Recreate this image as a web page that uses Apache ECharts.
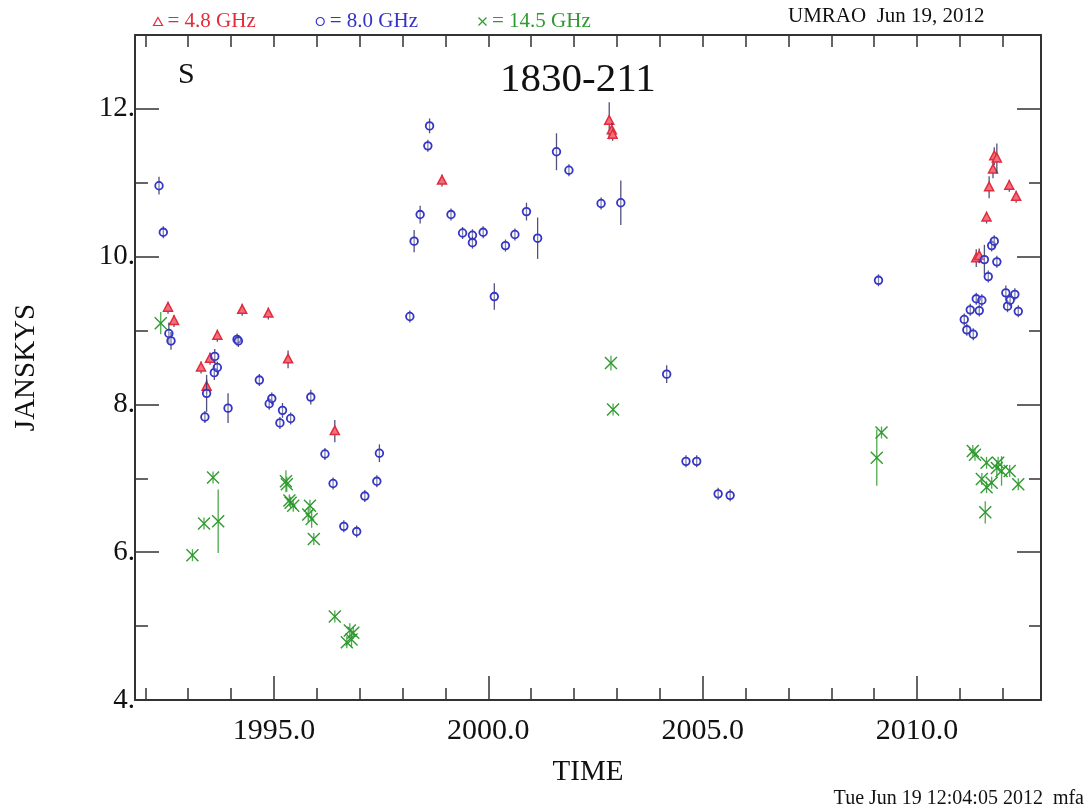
<!doctype html>
<html lang="en">
<head>
    <meta charset="utf-8">
    <title>1830-211 UMRAO</title>
    <script src="https://cdn.jsdelivr.net/npm/echarts@6/dist/echarts.min.js"></script>
    <style type="text/css">
        html, body { margin: 0; padding: 0; background: #fff; }
        #chart { width: 1088px; height: 812px; }
    </style>
</head>
<body>
    <div id="chart"></div>
    <script>
        // [year, flux (Jy), error]
        let flux_4_8 = [
            [1992.53, 9.31, 0.08], [1992.67, 9.13, 0.05], [1993.30, 8.50, 0.05], [1993.43, 8.24, 0.10],
            [1993.51, 8.62, 0.05], [1993.68, 8.93, 0.05], [1994.26, 9.28, 0.08], [1994.87, 9.23, 0.04],
            [1995.33, 8.61, 0.12], [1996.42, 7.64, 0.15], [1998.92, 11.03, 0.08], [2002.82, 11.84, 0.25],
            [2002.88, 11.71, 0.10], [2002.90, 11.65, 0.08], [2011.38, 9.98, 0.12], [2011.45, 10.01, 0.10],
            [2011.62, 10.53, 0.08], [2011.68, 10.94, 0.15], [2011.77, 11.18, 0.12], [2011.80, 11.36, 0.12],
            [2011.86, 11.33, 0.20], [2012.15, 10.96, 0.05], [2012.31, 10.81, 0.05]
        ];
        let flux_8_0 = [
            [1992.32, 10.96, 0.12], [1992.42, 10.33, 0.05], [1992.55, 8.96, 0.15], [1992.60, 8.86, 0.12],
            [1993.39, 7.83, 0.05], [1993.43, 8.15, 0.25], [1993.61, 8.43, 0.10], [1993.62, 8.65, 0.10],
            [1993.68, 8.50, 0.08], [1993.93, 7.95, 0.20], [1994.14, 8.88, 0.06], [1994.17, 8.86, 0.05],
            [1994.66, 8.33, 0.04], [1994.89, 8.01, 0.06], [1994.95, 8.08, 0.06], [1995.14, 7.75, 0.05],
            [1995.20, 7.92, 0.10], [1995.39, 7.81, 0.05], [1995.86, 8.10, 0.10], [1996.19, 7.33, 0.06],
            [1996.38, 6.93, 0.05], [1996.63, 6.35, 0.04], [1996.93, 6.28, 0.04], [1997.12, 6.76, 0.05],
            [1997.40, 6.96, 0.06], [1997.46, 7.34, 0.12], [1998.17, 9.19, 0.08], [1998.27, 10.21, 0.15],
            [1998.41, 10.57, 0.12], [1998.59, 11.50, 0.06], [1998.63, 11.77, 0.10], [1999.13, 10.57, 0.06],
            [1999.40, 10.32, 0.04], [1999.63, 10.29, 0.05], [1999.63, 10.19, 0.05], [1999.88, 10.33, 0.06],
            [2000.14, 9.46, 0.18], [2000.40, 10.15, 0.05], [2000.62, 10.30, 0.06], [2000.89, 10.61, 0.12],
            [2001.15, 10.25, 0.28], [2001.59, 11.42, 0.25], [2001.88, 11.17, 0.08], [2002.63, 10.72, 0.03],
            [2003.09, 10.73, 0.30], [2004.16, 8.41, 0.12], [2004.61, 7.23, 0.04], [2004.86, 7.23, 0.03],
            [2005.36, 6.79, 0.03], [2005.64, 6.77, 0.03], [2009.10, 9.68, 0.06], [2011.10, 9.15, 0.03],
            [2011.16, 9.01, 0.04], [2011.24, 9.28, 0.05], [2011.31, 8.95, 0.05], [2011.38, 9.43, 0.05],
            [2011.45, 9.27, 0.04], [2011.51, 9.41, 0.04], [2011.57, 9.96, 0.20], [2011.66, 9.73, 0.04],
            [2011.74, 10.15, 0.04], [2011.80, 10.21, 0.04], [2011.86, 9.93, 0.04], [2012.07, 9.51, 0.10],
            [2012.11, 9.33, 0.05], [2012.17, 9.41, 0.04], [2012.28, 9.49, 0.04], [2012.36, 9.26, 0.04]
        ];
        let flux_14_5 = [
            [1992.36, 9.10, 0.15], [1993.10, 5.96, 0.08], [1993.37, 6.39, 0.05], [1993.58, 7.01, 0.06],
            [1993.70, 6.42, 0.43], [1995.28, 6.96, 0.15], [1995.30, 6.92, 0.10], [1995.39, 6.67, 0.08],
            [1995.36, 6.70, 0.06], [1995.45, 6.63, 0.05], [1995.84, 6.63, 0.08], [1995.80, 6.51, 0.10],
            [1995.88, 6.45, 0.12], [1995.93, 6.18, 0.08], [1996.42, 5.13, 0.04], [1996.77, 4.94, 0.10],
            [1996.81, 4.82, 0.10], [1996.70, 4.78, 0.08], [1996.85, 4.91, 0.06], [2002.86, 8.56, 0.10],
            [2002.91, 7.93, 0.08], [2009.06, 7.28, 0.38], [2009.17, 7.62, 0.05], [2011.30, 7.37, 0.05],
            [2011.35, 7.32, 0.05], [2011.62, 7.21, 0.05], [2011.86, 7.14, 0.10], [2011.97, 7.10, 0.20],
            [2011.89, 7.21, 0.05], [2012.16, 7.10, 0.05], [2011.51, 6.99, 0.05], [2011.74, 6.94, 0.08],
            [2011.62, 6.88, 0.05], [2012.36, 6.92, 0.05], [2011.59, 6.54, 0.15]
        ];

        let year_ticks = [1992, 1993, 1994, 1995, 1996, 1997, 1998, 1999, 2000, 2001, 2002,
            2003, 2004, 2005, 2006, 2007, 2008, 2009, 2010, 2011, 2012];
        let year_labels = [1995, 2000, 2005, 2010];
        let jy_minor = [5, 7, 9, 11];
        let jy_labels = [4, 6, 8, 10, 12];

        let red = '#e32b3b';
        let blue = '#3434c8';
        let green = '#2f9a2f';
        let serif = '"Liberation Serif", "DejaVu Serif", serif';

        function make_render(shape) {
            return function (params, api) {
                let x = api.value(0), y = api.value(1), e = api.value(2);
                let p = api.coord([x, y]);
                let top = api.coord([x, y + e])[1];
                let bot = api.coord([x, y - e])[1];
                top = Math.min(top, p[1] - 6);
                bot = Math.max(bot, p[1] + 6);
                let color = api.visual('color');
                let bar = {
                    type: 'line',
                    shape: { x1: p[0], y1: top, x2: p[0], y2: bot },
                    style: { stroke: shape === 'cross' ? color : '#333366', lineWidth: 1.3, opacity: 0.85 }
                };
                let mark;
                if (shape === 'circle') {
                    mark = {
                        type: 'circle',
                        shape: { cx: p[0], cy: p[1], r: 3.8 },
                        style: { fill: 'rgba(255,255,255,0.3)', stroke: color, lineWidth: 1.8 }
                    };
                } else if (shape === 'triangle') {
                    mark = {
                        type: 'polygon',
                        shape: { points: [[p[0], p[1] - 5], [p[0] - 4.5, p[1] + 3.5], [p[0] + 4.5, p[1] + 3.5]] },
                        style: { fill: '#f07080', stroke: color, lineWidth: 1.5 }
                    };
                } else {
                    mark = {
                        type: 'polyline',
                        shape: { points: [[p[0] - 6, p[1] - 6], [p[0] + 6, p[1] + 6]] },
                        style: { stroke: color, lineWidth: 1.4, fill: null }
                    };
                    let mark2 = {
                        type: 'polyline',
                        shape: { points: [[p[0] + 6, p[1] - 6], [p[0] - 6, p[1] + 6]] },
                        style: { stroke: color, lineWidth: 1.4, fill: null }
                    };
                    return { type: 'group', children: [bar, mark, mark2] };
                }
                return { type: 'group', children: [bar, mark] };
            };
        }

        let axis_line = { show: true, lineStyle: { color: '#333', width: 2 } };
        let x_min = 1991.76, x_max = 2012.89;

        let myChart = echarts.init(document.getElementById('chart'));
        let option = {
            backgroundColor: '#fff',
            animation: false,
            grid: { left: 135, right: 47, top: 35, bottom: 112 },
            legend: {
                left: 146,
                top: 6,
                itemWidth: 9,
                itemHeight: 8,
                itemGap: 58,
                selectedMode: false,
                textStyle: { fontFamily: serif, fontSize: 21 },
                data: [
                    { name: '= 4.8 GHz', icon: 'triangle', itemStyle: { color: 'none', borderColor: red, borderWidth: 1.2 }, textStyle: { color: red } },
                    { name: '= 8.0 GHz', icon: 'circle', itemStyle: { color: 'none', borderColor: blue, borderWidth: 1.2 }, textStyle: { color: blue } },
                    { name: '= 14.5 GHz', icon: 'path://M0,0L10,10M10,0L0,10', itemStyle: { color: 'none', borderColor: green, borderWidth: 1.2 }, textStyle: { color: green } }
                ]
            },
            xAxis: [
                {
                    type: 'value', position: 'bottom', min: x_min, max: x_max,
                    axisLine: axis_line,
                    axisTick: { show: true, inside: true, length: 12, customValues: year_ticks, lineStyle: { color: '#333', width: 1.5 } },
                    axisLabel: {
                        customValues: year_labels, margin: 16, color: '#111',
                        fontFamily: serif, fontSize: 30,
                        formatter: function (v) { return v.toFixed(1); }
                    },
                    splitLine: { show: false },
                    name: 'TIME', nameLocation: 'middle', nameGap: 58,
                    nameTextStyle: { fontFamily: serif, fontSize: 29, color: '#111' }
                },
                {
                    type: 'value', position: 'bottom', min: x_min, max: x_max,
                    axisLine: { show: false },
                    axisTick: { show: true, inside: true, length: 24, customValues: year_labels, lineStyle: { color: '#333', width: 1.5 } },
                    axisLabel: { show: false },
                    splitLine: { show: false }
                },
                {
                    type: 'value', position: 'top', min: x_min, max: x_max,
                    axisLine: axis_line,
                    axisTick: { show: true, inside: true, length: 12, customValues: year_ticks, lineStyle: { color: '#333', width: 1.5 } },
                    axisLabel: { show: false },
                    splitLine: { show: false }
                }
            ],
            yAxis: [
                {
                    type: 'value', position: 'left', min: 4, max: 13,
                    axisLine: axis_line,
                    axisTick: { show: true, inside: true, length: 13, customValues: jy_minor, lineStyle: { color: '#333', width: 1.5 } },
                    axisLabel: {
                        customValues: jy_labels, margin: 0, color: '#111',
                        fontFamily: serif, fontSize: 29,
                        formatter: function (v) { return v + '.'; }
                    },
                    splitLine: { show: false },
                    name: 'JANSKYS', nameLocation: 'middle', nameGap: 94,
                    nameTextStyle: { fontFamily: serif, fontSize: 29, color: '#111' }
                },
                {
                    type: 'value', position: 'left', min: 4, max: 13,
                    axisLine: { show: false },
                    axisTick: { show: true, inside: true, length: 24, customValues: jy_labels, lineStyle: { color: '#333', width: 1.5 } },
                    axisLabel: { show: false },
                    splitLine: { show: false }
                },
                {
                    type: 'value', position: 'right', min: 4, max: 13,
                    axisLine: axis_line,
                    axisTick: { show: true, inside: true, length: 12, customValues: jy_minor, lineStyle: { color: '#333', width: 1.5 } },
                    axisLabel: { show: false },
                    splitLine: { show: false }
                },
                {
                    type: 'value', position: 'right', min: 4, max: 13,
                    axisLine: { show: false },
                    axisTick: { show: true, inside: true, length: 24, customValues: jy_labels, lineStyle: { color: '#333', width: 1.5 } },
                    axisLabel: { show: false },
                    splitLine: { show: false }
                }
            ],
            graphic: [
                { type: 'text', left: 788, top: 6, style: { text: 'UMRAO  Jun 19, 2012', fontFamily: serif, fontSize: 21, fill: '#111' } },
                { type: 'text', left: 178, top: 60, style: { text: 'S', fontFamily: serif, fontSize: 30, fill: '#111' } },
                { type: 'text', left: 500, top: 60, style: { text: '1830-211', fontFamily: serif, fontSize: 41, fill: '#111' } },
                { type: 'text', right: 4, bottom: 3, style: { text: 'Tue Jun 19 12:04:05 2012  mfa', fontFamily: serif, fontSize: 20, fill: '#111' } }
            ],
            series: [
                {
                    name: '= 4.8 GHz', type: 'custom', xAxisIndex: 0, yAxisIndex: 0,
                    itemStyle: { color: red }, encode: { x: 0, y: 1 },
                    renderItem: make_render('triangle'), data: flux_4_8
                },
                {
                    name: '= 8.0 GHz', type: 'custom', xAxisIndex: 0, yAxisIndex: 0,
                    itemStyle: { color: blue }, encode: { x: 0, y: 1 },
                    renderItem: make_render('circle'), data: flux_8_0
                },
                {
                    name: '= 14.5 GHz', type: 'custom', xAxisIndex: 0, yAxisIndex: 0,
                    itemStyle: { color: green }, encode: { x: 0, y: 1 },
                    renderItem: make_render('cross'), data: flux_14_5
                }
            ]
        };
        myChart.setOption(option);
    </script>
</body>
</html>
